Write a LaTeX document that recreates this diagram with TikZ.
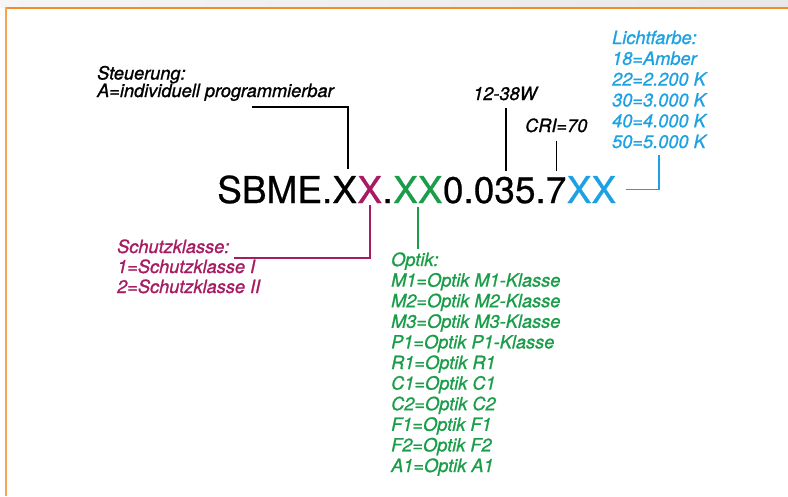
\documentclass[tikz,border=0pt]{standalone}
\usepackage{fontspec}
\setmainfont{TeX Gyre Heros}
\newfontfamily\codefont[FakeBold=0.6]{TeX Gyre Heros}
\newfontfamily\infofont[FakeBold=1.1]{TeX Gyre Heros}
\usetikzlibrary{positioning}

\definecolor{schutzrot}{RGB}{166,27,98}
\definecolor{optikgruen}{RGB}{26,157,73}
\definecolor{lichtblau}{RGB}{29,161,226}
\definecolor{rahmenorange}{RGB}{242,141,40}
\definecolor{rahmenhell}{RGB}{245,165,80}

\tikzset{
  codetext/.style={inner sep=0pt,anchor=base west,font=\codefont\fontsize{37}{37}\selectfont},
  infotext/.style={inner sep=0pt,anchor=base west,font=\infofont\fontsize{18.2}{20}\selectfont\itshape},
  leitung/.style={line width=1.5pt}
}

\begin{document}
\begin{tikzpicture}[x=1pt,y=-1pt]
\useasboundingbox (0,0) rectangle (788,496);
% frame
\shade[left color=gray!8,right color=gray!18] (0,0) rectangle (788,7);
\draw[line width=2pt,rahmenorange] (5,7.5)--(788,7.5);
\draw[line width=2pt,rahmenhell] (6,7)--(6,496);

% article code
\node[codetext] (sbme) at (217,203) {SBME.X};
\node[codetext,schutzrot] (xs) at (sbme.base east) {X};
\node[codetext] (dot) at (xs.base east) {.};
\node[codetext,optikgruen] (xo) at (dot.base east) {XX};
\node[codetext] (num) at (xo.base east) {0.035.7};
\node[codetext,lichtblau] (xl) at (num.base east) {XX};

% Steuerung
\node[infotext] (steu0) at (97,79.5) {Steuerung:};
\node[infotext] (steu1) at (97,97) {A=individuell programmierbar};
\coordinate (steu-a) at (252,107);
\draw[leitung] (steu-a) -| ([xshift=-9pt,yshift=6pt]sbme.north east);

% Leistung, CRI
\node[infotext] (watt) at (473,100) {12-38W};
\node[infotext] (cri) at (525,132) {CRI=70};
\coordinate (codetop) at ([yshift=6pt]num.north);
\draw[leitung] ([xshift=1pt,yshift=-8pt]watt.south) -- ([xshift=1pt]watt.south |- codetop);
\draw[leitung] ([yshift=-8pt]cri.south) -- (cri.south |- codetop);

% Lichtfarbe
\foreach \t [count=\i from 0] in {Lichtfarbe:,18=Amber,22=2.200 K,30=3.000 K,40=4.000 K,50=5.000 K}
  \node[infotext,lichtblau] (licht\i) at (612,44+20.8*\i) {\t};
\draw[leitung,lichtblau] ([xshift=10pt]xl.east) -| ([yshift=-7pt]licht5.south);

% Schutzklasse
\foreach \t [count=\i from 0] in {Schutzklasse:,1=Schutzklasse I,2=Schutzklasse II}
  \node[infotext,schutzrot] (schutz\i) at (117,253+20*\i) {\t};
\draw[leitung,schutzrot] ([yshift=-2pt]xs.south) |- ([xshift=4pt,yshift=-5pt]schutz0.base east);

% Optik
\foreach \t [count=\i from 0] in {Optik:,M1=Optik M1-Klasse,M2=Optik M2-Klasse,M3=Optik M3-Klasse,
    P1=Optik P1-Klasse,R1=Optik R1,C1=Optik C1,C2=Optik C2,F1=Optik F1,F2=Optik F2,A1=Optik A1}
  \node[infotext,optikgruen] (optik\i) at (391,266+20.6*\i) {\t};
\draw[leitung,optikgruen] ([yshift=-4pt]xo.south) -- ++(0,42);

\end{tikzpicture}
\end{document}
